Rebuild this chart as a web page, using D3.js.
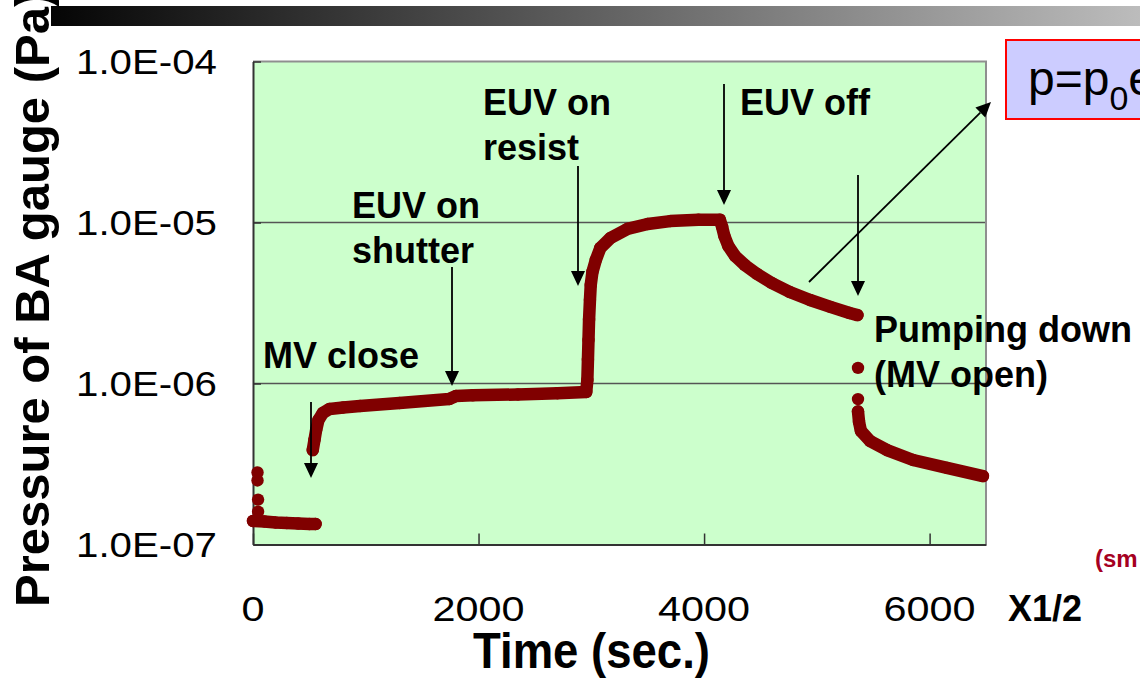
<!DOCTYPE html>
<html>
<head>
<meta charset="utf-8">
<script src="https://cdn.jsdelivr.net/npm/d3@7"></script>
<style>
  html, body { margin: 0; padding: 0; background: #fff; overflow: hidden; }
  svg { display: block; font-family: Arial, "Liberation Sans", sans-serif; }
</style>
</head>
<body>
<div id="chart"></div>
<script>
// Pressure log: time (s) and pressure (Pa)
const baseTime = [0, 100, 200, 300, 400, 500, 555];
const basePres = [1.40e-7, 1.39e-7, 1.37e-7, 1.36e-7, 1.35e-7, 1.34e-7, 1.34e-7];

const runTime = [530, 545, 560, 580, 620, 680, 800, 950, 1300, 1740, 1800, 1950, 2350, 2700, 2955,
  2965, 2970, 2975, 2980, 2988, 2995, 3010, 3040, 3080, 3170, 3320, 3500, 3700, 3950, 4140,
  4160, 4180, 4215, 4275, 4360, 4470, 4600, 4760, 4940, 5120, 5290, 5360];
const runPres = [3.86e-7, 4.46e-7, 5.14e-7, 5.93e-7, 6.56e-7, 6.95e-7, 7.10e-7, 7.25e-7, 7.57e-7, 8.01e-7, 8.36e-7, 8.45e-7, 8.55e-7, 8.70e-7, 8.86e-7,
  1.05e-6, 1.40e-6, 1.86e-6, 2.48e-6, 3.30e-6, 4.09e-6, 4.93e-6, 5.85e-6, 6.95e-6, 8.01e-6, 9.12e-6, 9.79e-6, 1.02e-5, 1.04e-5, 1.04e-5,
  9.38e-6, 8.24e-6, 7.14e-6, 6.19e-6, 5.45e-6, 4.79e-6, 4.21e-6, 3.70e-6, 3.30e-6, 2.99e-6, 2.74e-6, 2.66e-6];

const pumpTime = [5365, 5374, 5391, 5471, 5622, 5853, 6154, 6473];
const pumpPres = [6.70e-7, 5.77e-7, 5.07e-7, 4.40e-7, 3.86e-7, 3.35e-7, 2.99e-7, 2.66e-7];

// single readings that stand apart from the trace
const dotTime = [40, 40, 45, 45, 5365, 5365];
const dotPres = [2.8e-7, 2.5e-7, 1.9e-7, 1.6e-7, 1.25e-6, 8.0e-7];

const xTicks = [0, 2000, 4000, 6000];
const yTicks = [1e-7, 1e-6, 1e-5, 1e-4];
const yTickLabels = ['1.0E-07', '1.0E-06', '1.0E-05', '1.0E-04'];

const W = 1140, H = 683;
const plot = { left: 253, right: 986, top: 61.5, bottom: 544.5 };
const red = '#800000';

const svg = d3.select('#chart').append('svg')
  .attr('width', W).attr('height', H);

// grey header bar
const grad = svg.append('defs').append('linearGradient').attr('id', 'bar');
grad.append('stop').attr('offset', '0%').attr('stop-color', '#050505');
grad.append('stop').attr('offset', '100%').attr('stop-color', '#bcbcbc');
svg.append('rect').attr('x', 51).attr('y', 6).attr('width', W - 51).attr('height', 20)
  .attr('fill', 'url(#bar)');

const x = d3.scaleLinear().domain([0, 6500]).range([plot.left, plot.right]);
const y = d3.scaleLog().domain([1e-7, 1e-4]).range([plot.bottom, plot.top]);

svg.append('rect')
  .attr('x', plot.left).attr('y', plot.top)
  .attr('width', plot.right - plot.left).attr('height', plot.bottom - plot.top)
  .attr('fill', '#ccffcc');

// gridlines
svg.append('g').selectAll('line')
  .data(yTicks.slice(1, 3))
  .join('line')
  .attr('x1', plot.left).attr('x2', plot.right)
  .attr('y1', d => y(d)).attr('y2', d => y(d))
  .attr('stroke', '#555').attr('stroke-width', 1.4);

// frame: grey top/right, dark axes
svg.append('path')
  .attr('d', `M${plot.left},${plot.top}H${plot.right}V${plot.bottom}`)
  .attr('fill', 'none').attr('stroke', '#8f8f8f').attr('stroke-width', 2);

const xAxis = svg.append('g')
  .attr('transform', `translate(0,${plot.bottom})`)
  .call(d3.axisBottom(x).tickValues(xTicks).tickSize(-11).tickFormat('').tickSizeOuter(0));
const yAxis = svg.append('g')
  .attr('transform', `translate(${plot.left},0)`)
  .call(d3.axisLeft(y).tickValues(yTicks).tickSize(-8).tickFormat('').tickSizeOuter(0));
[xAxis, yAxis].forEach(a => {
  a.select('.domain').attr('stroke', '#333').attr('stroke-width', 2);
  a.selectAll('.tick line').attr('stroke', '#333').attr('stroke-width', 1.5);
});

// tick labels (the chart text is stretched sideways in the picture)
svg.append('g').selectAll('text')
  .data(yTicks)
  .join('text')
  .attr('x', 217).attr('y', d => y(d) + 12.5)
  .attr('text-anchor', 'end')
  .attr('font-size', 35)
  .attr('textLength', 141).attr('lengthAdjust', 'spacingAndGlyphs')
  .text((d, i) => yTickLabels[i]);

svg.append('g').selectAll('text')
  .data(xTicks)
  .join('text')
  .attr('x', d => x(d)).attr('y', 621)
  .attr('text-anchor', 'middle')
  .attr('font-size', 35)
  .attr('textLength', d => String(d).length * 23).attr('lengthAdjust', 'spacingAndGlyphs')
  .text(d => String(d));

svg.append('text')
  .attr('transform', 'translate(49,607) rotate(-90)')
  .attr('font-size', 49).attr('font-weight', 'bold')
  .text('Pressure of BA gauge (Pa)');

svg.append('text')
  .attr('x', 473).attr('y', 668)
  .attr('font-size', 50).attr('font-weight', 'bold')
  .attr('textLength', 237).attr('lengthAdjust', 'spacingAndGlyphs')
  .text('Time (sec.)');

svg.append('text')
  .attr('x', 1008).attr('y', 621)
  .attr('font-size', 36).attr('font-weight', 'bold')
  .text('X1/2');

svg.append('text')
  .attr('x', 1095).attr('y', 567)
  .attr('font-size', 24).attr('font-weight', 'bold').attr('fill', '#a50021')
  .text('(sm');

// data trace
const segments = [
  d3.zip(baseTime, basePres),
  d3.zip(runTime, runPres),
  d3.zip(pumpTime, pumpPres)
];
const line = d3.line().x(d => x(d[0])).y(d => y(d[1]));
const trace = svg.append('g');
trace.selectAll('path')
  .data(segments)
  .join('path')
  .attr('d', line)
  .attr('fill', 'none')
  .attr('stroke', red).attr('stroke-width', 12.5)
  .attr('stroke-linecap', 'round').attr('stroke-linejoin', 'round');
trace.selectAll('circle')
  .data(segments.flat().concat(d3.zip(dotTime, dotPres)))
  .join('circle')
  .attr('cx', d => x(d[0])).attr('cy', d => y(d[1]))
  .attr('r', 6.2)
  .attr('fill', red);

// annotations
function arrow(x1, y1, x2, y2) {
  const dx = x2 - x1, dy = y2 - y1, len = Math.hypot(dx, dy);
  const ux = dx / len, uy = dy / len, hl = 15, hw = 7;
  const bx = x2 - ux * hl, by = y2 - uy * hl;
  svg.append('line')
    .attr('x1', x1).attr('y1', y1).attr('x2', bx).attr('y2', by)
    .attr('stroke', '#000').attr('stroke-width', 1.8);
  svg.append('path')
    .attr('d', `M${x2},${y2}L${bx - uy * hw},${by + ux * hw}L${bx + uy * hw},${by - ux * hw}Z`)
    .attr('fill', '#000');
}
arrow(311, 402, 311, 478);
arrow(452, 267, 452, 386);
arrow(578, 166, 578, 286);
arrow(724, 84, 724, 205);
arrow(858, 175, 858, 296);
arrow(809, 282, 991, 102);

const notes = [
  { x: 263, y: 368, lines: ['MV close'] },
  { x: 352, y: 218, lines: ['EUV on', 'shutter'] },
  { x: 483, y: 115, lines: ['EUV on', 'resist'] },
  { x: 740, y: 115, lines: ['EUV off'] },
  { x: 874, y: 342, lines: ['Pumping down', '(MV open)'] }
];
notes.forEach(n => {
  const t = svg.append('text')
    .attr('font-size', 36).attr('font-weight', 'bold');
  n.lines.forEach((s, i) => {
    t.append('tspan').attr('x', n.x).attr('y', n.y + i * 45).text(s);
  });
});

// formula box
svg.append('rect')
  .attr('x', 1006).attr('y', 40).attr('width', 200).attr('height', 79)
  .attr('fill', '#ccccff').attr('stroke', '#ff0000').attr('stroke-width', 2);
const f = svg.append('text').attr('x', 1028).attr('y', 95).attr('font-size', 48);
f.append('tspan').text('p=p');
f.append('tspan').attr('font-size', 34).attr('dy', 15).text('0');
f.append('tspan').attr('dy', -15).text('e');
</script>
</body>
</html>
